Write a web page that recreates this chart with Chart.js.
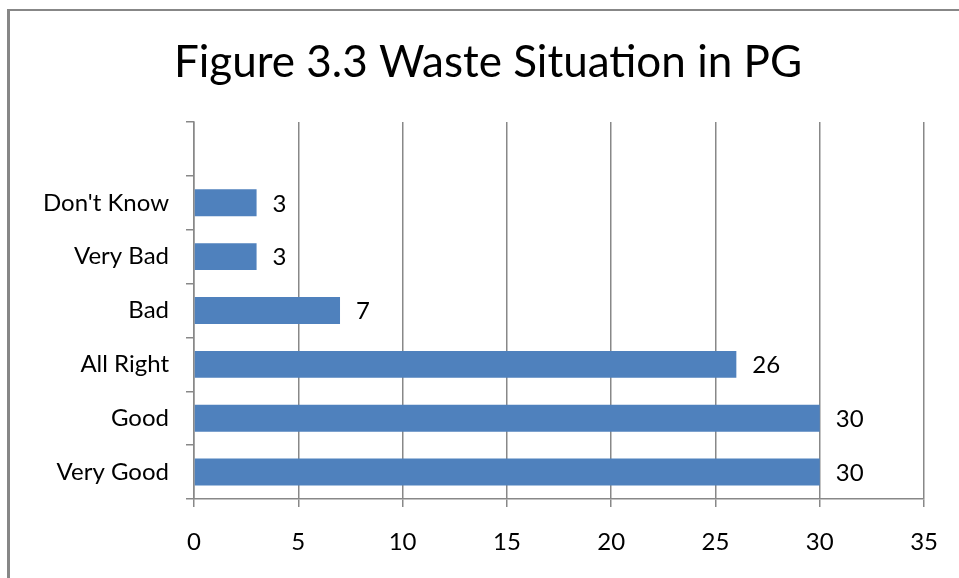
<!DOCTYPE html>
<html>
<head>
<meta charset="utf-8">
<script src="https://cdn.jsdelivr.net/npm/chart.js@4.4.1/dist/chart.umd.min.js"></script>
<style>
html,body{margin:0;padding:0;background:#fff;}
#wrap{position:relative;width:959px;height:578px;}
</style>
</head>
<body>
<div id="wrap"><canvas id="c" width="959" height="578"></canvas></div>
<script>
const titleText = 'Figure 3.3 Waste Situation in PG';
const categories = ['', "Don't Know", 'Very Bad', 'Bad', 'All Right', 'Good', 'Very Good'];
const responses = [null, 3, 3, 7, 26, 30, 30];
const xTicks = [0, 5, 10, 15, 20, 25, 30, 35];

const FONT = 'Lato, "Open Sans", sans-serif';
const GRID = '#888888';

const framePlugin = {
  id: 'frame',
  beforeDraw(chart) {
    const ctx = chart.ctx;
    ctx.save();
    ctx.fillStyle = '#fff';
    ctx.fillRect(0, 0, chart.width, chart.height);
    ctx.fillStyle = '#878787';
    ctx.fillRect(7, 9, 3, chart.height);
    ctx.fillRect(7, 9, chart.width, 2);
    ctx.restore();
  },
  afterDraw(chart) {
    const ctx = chart.ctx;
    ctx.save();
    ctx.fillStyle = '#000';
    ctx.font = '44px ' + FONT;
    ctx.textAlign = 'center';
    ctx.textBaseline = 'middle';
    ctx.fillText(titleText, 488, 63);
    // data labels
    const meta = chart.getDatasetMeta(0);
    ctx.font = '24px ' + FONT;
    ctx.textAlign = 'left';
    meta.data.forEach((bar, i) => {
      const v = chart.data.datasets[0].data[i];
      if (v === null || v === undefined) return;
      ctx.fillText(String(v), bar.x + 16, bar.y + 1);
    });
    ctx.restore();
  }
};

new Chart(document.getElementById('c'), {
  type: 'bar',
  data: {
    labels: categories,
    datasets: [{
      data: responses,
      backgroundColor: '#4F81BD',
      borderWidth: 0,
      categoryPercentage: 1.0,
      barPercentage: 0.5
    }]
  },
  plugins: [framePlugin],
  options: {
    indexAxis: 'y',
    responsive: false,
    animation: false,
    layout: { padding: { top: 122, right: 34, left: 0, bottom: 0 } },
    plugins: {
      legend: { display: false },
      title: { display: false },
      tooltip: { enabled: false }
    },
    scales: {
      x: {
        min: 0, max: 35,
        afterBuildTicks(scale) { scale.ticks = xTicks.map(v => ({ value: v })); },
        afterFit(scale) { scale.height = 79; },
        ticks: { color: '#000', font: { family: FONT, size: 24 }, padding: 21, maxRotation: 0 },
        grid: { color: GRID, lineWidth: 1.5, tickLength: 8, drawOnChartArea: true },
        border: { color: GRID, width: 1.5 }
      },
      y: {
        afterFit(scale) { scale.width = 194; },
        ticks: { color: '#000', font: { family: FONT, size: 24 }, padding: 17 },
        grid: { color: GRID, lineWidth: 1.5, tickLength: 8, drawOnChartArea: false, offset: true },
        border: { color: GRID, width: 1.5 }
      }
    }
  }
});
</script>
</body>
</html>
